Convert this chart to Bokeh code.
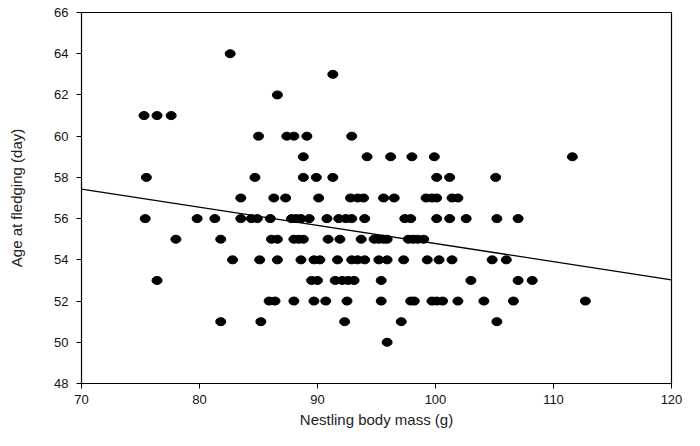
from bokeh.plotting import figure
from bokeh.models import FixedTicker
from bokeh.embed import file_html
from bokeh.resources import INLINE

# Data (body mass g, age at fledging day)
y64 = [82.6]
y63 = [91.3]
y62 = [86.6]
y61 = [75.3, 76.4, 77.6]
y60 = [85.0, 87.4, 88.0, 89.1, 92.9]
y59 = [88.8, 94.2, 96.2, 98.0, 99.9, 111.6]
y58 = [75.5, 84.7, 88.8, 89.9, 91.3, 100.1, 101.2, 105.1]
y57 = [83.5, 86.3, 87.3, 90.1, 92.8, 93.4, 93.9, 95.6, 96.5, 99.2, 99.7, 100.1, 101.4, 101.9]
y56 = [75.4, 79.8, 81.3, 83.5, 84.4, 84.9, 86.0, 87.8, 88.2, 88.6, 89.3, 90.8, 91.8, 92.4,
       92.9, 94.0, 97.4, 97.9, 100.1, 101.2, 102.6, 105.2, 107.0]
y55 = [78.0, 81.8, 86.1, 86.6, 88.0, 88.4, 88.8, 90.9, 91.9, 93.7, 94.8, 95.2, 95.6, 95.9,
       97.7, 98.1, 98.5, 99.0]
y54 = [82.8, 85.1, 86.6, 88.6, 89.7, 90.2, 91.7, 92.9, 93.4, 94.0, 95.2, 95.9, 97.3, 99.3,
       100.3, 101.4, 104.8, 106.0]
y53 = [76.4, 89.5, 90.0, 91.5, 92.1, 92.6, 93.1, 95.4, 103.0, 107.0, 108.2]
y52 = [85.9, 86.4, 88.0, 89.7, 90.7, 92.5, 95.4, 97.9, 98.2, 99.7, 100.1, 100.6, 101.9,
       104.1, 106.6, 112.7]
y51 = [81.8, 85.2, 92.3, 97.1, 105.2]
y50 = [95.9]

rows = {64: y64, 63: y63, 62: y62, 61: y61, 60: y60, 59: y59, 58: y58, 57: y57,
        56: y56, 55: y55, 54: y54, 53: y53, 52: y52, 51: y51, 50: y50}

mass = []
age = []
for a, xs in rows.items():
    for m in xs:
        mass.append(m)
        age.append(a)

# Regression line
fit_intercept = 63.59
fit_slope = -0.088
line_x = [70, 120]
line_y = [fit_intercept + fit_slope * v for v in line_x]

x_ticks = [70, 80, 90, 100, 110, 120]
y_ticks = [48, 50, 52, 54, 56, 58, 60, 62, 64, 66]

p = figure(width=692, height=438, x_range=(70, 120), y_range=(48, 66),
           output_backend="svg", toolbar_location=None,
           min_border_left=81, min_border_right=21, min_border_top=12, min_border_bottom=55)

p.ellipse(x=mass, y=age, width=10, height=8, width_units="screen", height_units="screen",
          fill_color="black", line_color="black")
p.line(line_x, line_y, line_color="black", line_width=1.3)

p.xgrid.visible = False
p.ygrid.visible = False
p.outline_line_color = "black"
p.outline_line_width = 1.2
p.outline_line_alpha = 1

p.xaxis.ticker = FixedTicker(ticks=x_ticks)
p.yaxis.ticker = FixedTicker(ticks=y_ticks)
for ax in (p.xaxis[0], p.yaxis[0]):
    ax.minor_tick_line_color = None
    ax.major_tick_out = 5
    ax.major_tick_in = 0
    ax.axis_line_color = "black"
    ax.major_tick_line_color = "black"
    ax.major_label_text_font = "Liberation Sans"
    ax.major_label_text_font_size = "13px"
    ax.major_label_text_color = "#111111"
    ax.axis_label_text_font = "Liberation Sans"
    ax.axis_label_text_font_size = "15px"
    ax.axis_label_text_font_style = "normal"
    ax.axis_label_text_color = "#222222"

p.xaxis.axis_label = "Nestling body mass (g)"
p.yaxis.axis_label = "Age at fledging (day)"
p.xaxis.major_label_standoff = 6
p.xaxis.axis_label_standoff = 4
p.yaxis.major_label_standoff = 8
p.yaxis.axis_label_standoff = 26

open("out.html", "w").write(file_html(p, INLINE))
